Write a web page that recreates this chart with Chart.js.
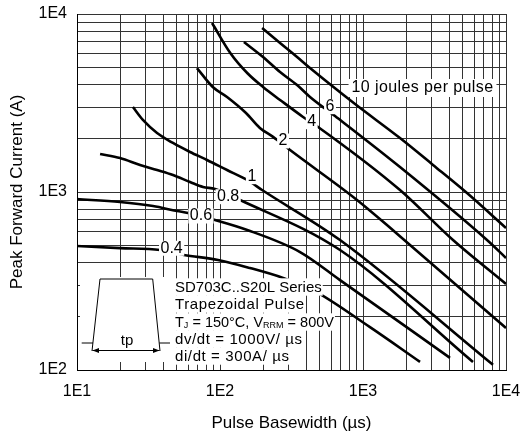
<!DOCTYPE html>
<html><head><meta charset="utf-8">
<style>html,body{margin:0;padding:0;background:#fff;}canvas{display:block;}</style>
<script src="https://cdn.jsdelivr.net/npm/chart.js@4/dist/chart.umd.min.js"></script>
</head><body>
<canvas id="c" width="522" height="437"></canvas>
<script>
// ---- axis grid / tick data ----
const xGrid = [10,20,30,40,50,60,70,80,90,100,200,300,400,500,600,700,800,900,1000,2000,3000,4000,5000,6000,7000,8000,9000,10000];
const yGrid = [100,200,300,400,500,600,700,800,900,1000,2000,3000,4000,5000,6000,7000,8000,9000,10000];
const xDecades = [10,100,1000,10000];
const xDecadeLabels = ['1E1','1E2','1E3','1E4'];
const yDecades = [100,1000,10000];
const yDecadeLabels = ['1E2','1E3','1E4'];

// ---- curves: pulse basewidth (us) vs peak forward current (A) ----
const curveLabels = ['10 joules per pulse','6','4','2','1','0.8','0.6','0.4'];
const t10 = [197,263,346,426,880,1814,3087,5338,10000];
const i10 = [8340,6870,5730,4970,3120,2010,1420,987,628];
const t6  = [147,200,263,346,426,637,1814,7365,10000];
const i6  = [6960,5730,4720,3990,3420,2670,1380,537,426];
const t4  = [88,118,155,200,263,381,485,1814,4261,10000];
const i4  = [8900,6040,4660,3890,3290,2640,2320,1026,537,304];
const t2  = [69,89,112,152,190,235,309,908,1674,10000];
const i2  = [4970,3890,3420,2780,2290,2040,1720,902,596,172];
const t1  = [24.6,28.9,36.3,46.9,61.7,81.1,112,155,197,691,8110];
const i1  = [3000,2540,2145,1885,1678,1513,1329,1168,1026,537,107];
const t08 = [14.5,20,27.6,36.3,46.9,61.7,76,92.3,138,691,5878];
const i08 = [1635,1552,1418,1329,1246,1138,1067,1040,902,472,111];
const t06 = [10,20,34,50,59.7,92.3,155,363,691,4058];
const i06 = [913,879,834,782,762,696,612,460,320,117];
const t04 = [10,20,38.1,56,96.8,162,276,447,1119,2505];
const i04 = [497,484,472,443,415,374,329,281,174,111];

// label anchors (data coordinates) for each curve label
const labelT = [2607,588,438,276,167,114,73.6,45.9];
const labelI = [3840,3015,2483,1934,1219,941,733,483];

const legendLines = ['SD703C..S20L Series','Trapezoidal Pulse','TJ = 150°C, VRRM = 800V','dv/dt = 1000V/ µs','di/dt = 300A/ µs'];

const FONT = '"Liberation Sans", Arial, sans-serif';
const curves = [[t10,i10],[t6,i6],[t4,i4],[t2,i2],[t1,i1],[t08,i08],[t06,i06],[t04,i04]];
const datasets = curves.map(([t,i],k)=>({
  label: curveLabels[k],
  data: t.map((v,j)=>({x:v,y:i[j]})),
  borderColor:'#000', borderWidth:2.6, pointRadius:0, fill:false,
  cubicInterpolationMode:'monotone'
}));

function setSpacing(ctx, s){ if ('letterSpacing' in ctx) ctx.letterSpacing = s; }

function drawBgText(ctx, txt, cx, cy, padX, h){
  const w = ctx.measureText(txt).width;
  ctx.fillStyle = '#fff';
  ctx.fillRect(cx - w/2 - padX, cy - h/2, w + 2*padX, h);
  ctx.fillStyle = '#000';
  ctx.fillText(txt, cx, cy);
}

const annot = {
  id:'annot',
  afterDatasetsDraw(chart){
    const {ctx, chartArea:ca, scales:{x,y}} = chart;
    const L = ca.left, T = ca.top;
    ctx.save();
    // trapezoid panel background
    ctx.fillStyle = '#fff';
    ctx.fillRect(L+3, T+263, 95, 85);
    // trapezoid pulse sketch
    ctx.strokeStyle = '#000'; ctx.lineWidth = 1;
    ctx.beginPath();
    ctx.moveTo(L+15, T+337); ctx.lineTo(L+23, T+265); ctx.lineTo(L+75.7, T+265); ctx.lineTo(L+83, T+337);
    ctx.moveTo(L+4.7, T+329); ctx.lineTo(L+16, T+329);
    ctx.moveTo(L+82.3, T+329); ctx.lineTo(L+93, T+329);
    ctx.moveTo(L+15.5, T+336.5); ctx.lineTo(L+82.5, T+336.5);
    ctx.stroke();
    ctx.fillStyle = '#000';
    ctx.beginPath();
    ctx.moveTo(L+15.5, T+336.5); ctx.lineTo(L+22, T+334); ctx.lineTo(L+22, T+339); ctx.closePath();
    ctx.moveTo(L+82.5, T+336.5); ctx.lineTo(L+76, T+334); ctx.lineTo(L+76, T+339); ctx.closePath();
    ctx.fill();
    ctx.font = '15px '+FONT; ctx.textAlign='center'; ctx.textBaseline='alphabetic';
    ctx.fillText('tp', L+50, T+331);

    // legend text lines
    const lx = L+98;
    const lineY = [273,290,308,325,342];
    const spacing = ['0px','0.6px','0px','0.6px','0.6px'];
    ctx.textAlign='left'; ctx.textBaseline='alphabetic';
    lineY.forEach((oy,k)=>{
      const cy = T+oy;
      const base = cy+5.3;
      setSpacing(ctx, spacing[k]);
      if (k===2){
        const parts = [['T',14.5,0],['J',9,1],[' = 150°C, V',14.5,0],['RRM',9,1],[' = 800V',14.5,0]];
        let w = 0;
        parts.forEach(p=>{ctx.font = p[1]+'px '+FONT; w += ctx.measureText(p[0]).width;});
        ctx.fillStyle='#fff'; ctx.fillRect(lx-1, cy-8.7, w+2, 17.4);
        ctx.fillStyle='#000';
        let xx = lx;
        parts.forEach(p=>{ctx.font = p[1]+'px '+FONT; ctx.fillText(p[0], xx, base+p[2]); xx += ctx.measureText(p[0]).width;});
      } else {
        ctx.font = '15px '+FONT;
        const w = ctx.measureText(legendLines[k]).width;
        ctx.fillStyle='#fff'; ctx.fillRect(lx-1, cy-8.7, w+2, 17.4);
        ctx.fillStyle='#000'; ctx.fillText(legendLines[k], lx, base);
      }
    });

    // curve labels
    ctx.font = '16px '+FONT; ctx.textAlign='center'; ctx.textBaseline='middle';
    curveLabels.forEach((lab,k)=>{
      const px = x.getPixelForValue(labelT[k]);
      const py = y.getPixelForValue(labelI[k]);
      if (k===0) { setSpacing(ctx,'0.4px'); drawBgText(ctx, lab, px, py, 3, 18); setSpacing(ctx,'0px'); }
      else drawBgText(ctx, lab, px, py, 1.5, 15);
    });
    setSpacing(ctx,'0px');
    ctx.restore();
  }
};

function decadeLabel(v, decs, labs){
  const i = decs.findIndex(d => Math.abs(d - v) < 1e-6*d);
  return i >= 0 ? labs[i] : '';
}

new Chart(document.getElementById('c'), {
  type:'line',
  data:{datasets},
  plugins:[annot],
  options:{
    responsive:false, animation:false, devicePixelRatio:1,
    layout:{padding:{top:14,right:16,left:0,bottom:0}},
    plugins:{legend:{display:false}, tooltip:{enabled:false}},
    scales:{
      x:{
        type:'logarithmic', min:10, max:10000, position:'bottom',
        afterBuildTicks:s=>{ s.ticks = xGrid.map(v=>({value:v})); },
        afterFit:s=>{ s.height = 67; s.paddingLeft = 0; s.paddingRight = 0; },
        ticks:{callback:(v)=>decadeLabel(v,xDecades,xDecadeLabels), autoSkip:false, maxRotation:0, minRotation:0, padding:12, color:'#000', font:{family:FONT,size:16}},
        grid:{color:'#333', lineWidth:1, drawTicks:false},
        border:{color:'#000', width:1},
        title:{display:true, text:'Pulse Basewidth (µs)', color:'#000', font:{family:FONT,size:17}, padding:{top:0,bottom:3}}
      },
      y:{
        type:'logarithmic', min:100, max:10000, position:'left',
        afterBuildTicks:s=>{ s.ticks = yGrid.map(v=>({value:v})); },
        afterFit:s=>{ s.width = 77; s.paddingTop = 0; s.paddingBottom = 0; },
        ticks:{callback:(v)=>decadeLabel(v,yDecades,yDecadeLabels), autoSkip:false, padding:10, color:'#000', font:{family:FONT,size:16}},
        grid:{color:'#333', lineWidth:1, drawTicks:false},
        border:{color:'#000', width:1},
        title:{display:true, text:'Peak Forward Current (A)', color:'#000', font:{family:FONT,size:17}, padding:{top:7,bottom:0}}
      }
    }
  }
});
</script>
</body></html>
